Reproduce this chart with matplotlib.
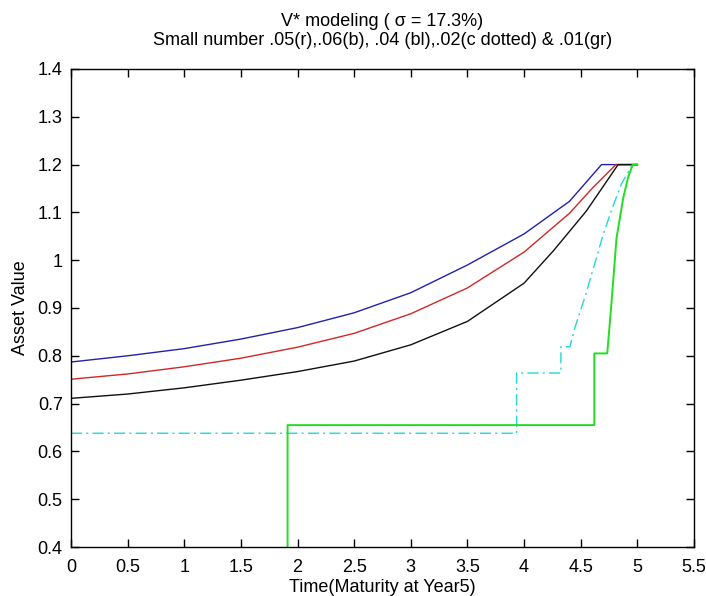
import matplotlib
matplotlib.use("Agg")
import matplotlib.pyplot as plt

plt.rcParams['font.family'] = ['Liberation Sans', 'DejaVu Sans']

# Data
blue_x = [0, 0.5, 1.0, 1.5, 2.0, 2.5, 3.0, 3.5, 4.0, 4.4, 4.684, 5]
blue_y = [0.787, 0.800, 0.815, 0.835, 0.859, 0.890, 0.932, 0.990, 1.055, 1.123, 1.200, 1.200]

red_x = [0, 0.5, 1.0, 1.5, 2.0, 2.5, 3.0, 3.5, 4.0, 4.4, 4.6, 4.81, 5]
red_y = [0.751, 0.762, 0.777, 0.795, 0.818, 0.847, 0.888, 0.942, 1.017, 1.098, 1.150, 1.200, 1.200]

black_x = [0, 0.5, 1.0, 1.5, 2.0, 2.5, 3.0, 3.5, 4.0, 4.26, 4.55, 4.83, 5]
black_y = [0.711, 0.720, 0.733, 0.749, 0.767, 0.789, 0.823, 0.872, 0.952, 1.020, 1.103, 1.200, 1.200]

cyan_x = [0, 3.934, 3.934, 4.325, 4.325, 4.404, 4.45, 4.54, 4.62, 4.70, 4.78, 4.86, 4.957, 5]
cyan_y = [0.638, 0.638, 0.764, 0.764, 0.819, 0.819, 0.860, 0.925, 0.990, 1.055, 1.110, 1.160, 1.200, 1.200]

green_x = [1.912, 1.912, 4.620, 4.620, 4.734, 4.770, 4.816, 4.875, 4.920, 4.960, 5]
green_y = [0.300, 0.655, 0.655, 0.805, 0.805, 0.906, 1.046, 1.130, 1.175, 1.200, 1.200]

x_ticks = [0, 0.5, 1, 1.5, 2, 2.5, 3, 3.5, 4, 4.5, 5, 5.5]
y_ticks = [0.4, 0.5, 0.6, 0.7, 0.8, 0.9, 1.0, 1.1, 1.2, 1.3, 1.4]
x_labels = ['0', '0.5', '1', '1.5', '2', '2.5', '3', '3.5', '4', '4.5', '5', '5.5']
y_labels = ['0.4', '0.5', '0.6', '0.7', '0.8', '0.9', '1', '1.1', '1.2', '1.3', '1.4']

fig = plt.figure(figsize=(7.06, 5.96), dpi=100)
ax = fig.add_axes([71/706, 49/596, 623/706, 478/596])

ax.plot(blue_x, blue_y, color='#2222aa', lw=1.0)
ax.plot(red_x, red_y, color='#d02828', lw=1.0)
ax.plot(black_x, black_y, color='#111111', lw=1.0)
ax.plot(cyan_x, cyan_y, color='#22d8d8', lw=1.0, linestyle=(0, (8, 3, 1.5, 3)))
ax.plot(green_x, green_y, color='#22dd22', lw=1.4)

ax.set_xlim(0, 5.5)
ax.set_ylim(0.4, 1.4)
ax.set_xticks(x_ticks)
ax.set_xticklabels(x_labels)
ax.set_yticks(y_ticks)
ax.set_yticklabels(y_labels)
ax.tick_params(direction='in', top=True, right=True, length=6, width=1,
               labelsize=13)
ax.tick_params(axis='x', pad=9)
ax.tick_params(axis='y', pad=6)
for s in ax.spines.values():
    s.set_linewidth(1.0)

ax.set_xlabel('Time(Maturity at Year5)', fontsize=13, labelpad=2)
ax.set_ylabel('Asset Value', fontsize=13, labelpad=6)
ax.set_title('V* modeling ( σ = 17.3%)\nSmall number .05(r),.06(b), .04 (bl),.02(c dotted) & .01(gr)',
             fontsize=13, pad=17, linespacing=1.2)

fig.savefig('out.png', dpi=100)
